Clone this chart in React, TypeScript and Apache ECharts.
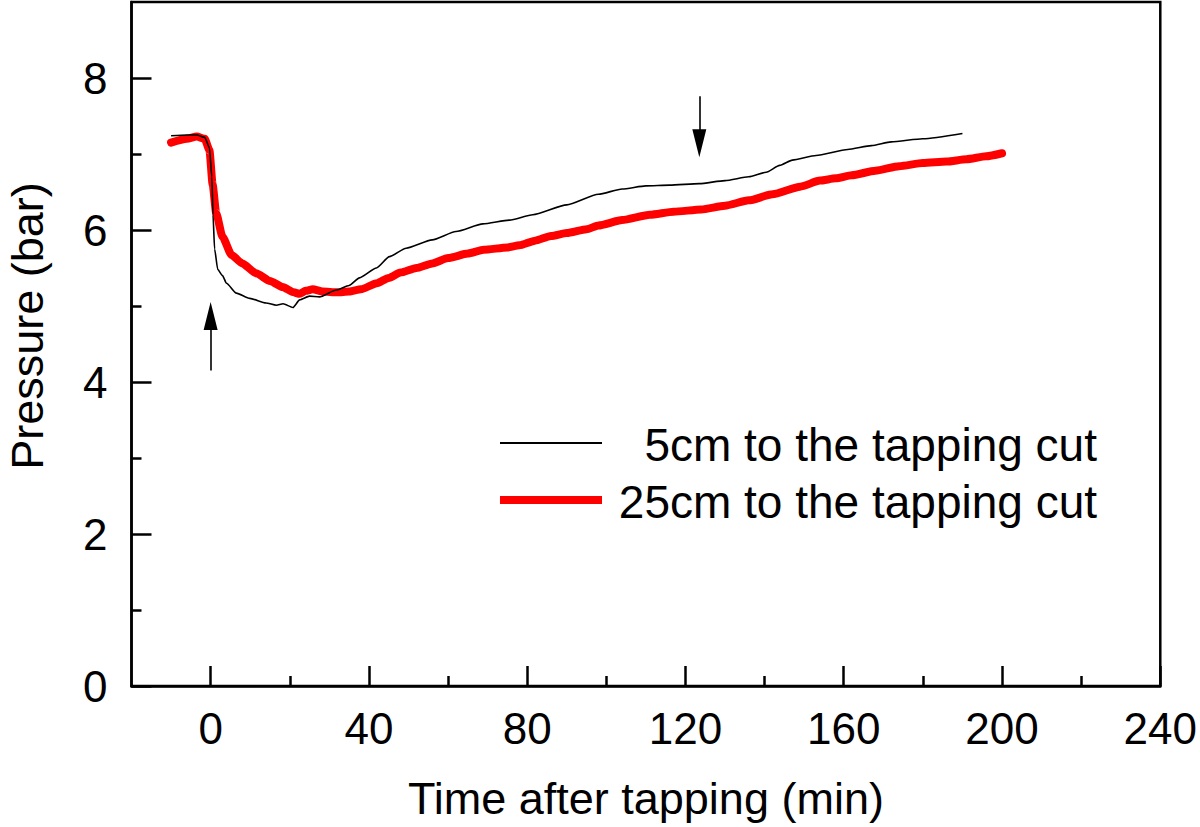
import React, { useEffect, useRef } from "react";
import * as echarts from "echarts";

// ---- data ----
const time5cm = [-10, -6, -3.5, -1.5, -0.3, 0.3, 0.6, 1.0, 1.8, 3, 4, 6.5, 9.9, 14, 16.6, 18.3, 20.8, 22.5, 25, 27.5, 31.8, 35, 37.6, 41.9, 45.2, 49.4, 56, 62, 68.8, 75.5, 81.4, 90, 98, 104, 110, 116, 123.5, 130, 136, 140.4, 143.8, 147, 153, 161, 167, 172, 180, 190];
const pressure5cm = [7.24, 7.25, 7.25, 7.22, 7.08, 6.7, 6.2, 5.75, 5.48, 5.4, 5.3, 5.17, 5.1, 5.04, 5.01, 5.03, 4.98, 5.08, 5.13, 5.12, 5.21, 5.27, 5.37, 5.5, 5.65, 5.76, 5.87, 5.98, 6.08, 6.13, 6.2, 6.33, 6.47, 6.54, 6.58, 6.59, 6.61, 6.65, 6.7, 6.76, 6.85, 6.92, 6.98, 7.06, 7.11, 7.16, 7.2, 7.27];

const time25cm = [-10, -6, -3.5, -1.5, -0.3, 0.5, 1.4, 3, 5.3, 8, 11.5, 15, 18.2, 21, 22.5, 24, 25.8, 28.3, 32, 35, 38, 42, 45, 48, 52, 56, 60, 65, 69, 75, 78, 82, 86, 90, 95, 98, 104, 111, 117, 124, 130, 136, 142, 149, 154, 158, 162, 168, 174, 180, 186, 191, 196, 200];
const pressure25cm = [7.15, 7.2, 7.23, 7.2, 7.05, 6.6, 6.22, 5.91, 5.67, 5.56, 5.43, 5.33, 5.25, 5.18, 5.16, 5.2, 5.22, 5.19, 5.18, 5.19, 5.22, 5.3, 5.37, 5.44, 5.5, 5.56, 5.63, 5.69, 5.74, 5.77, 5.8, 5.86, 5.92, 5.96, 6.01, 6.06, 6.13, 6.2, 6.24, 6.27, 6.32, 6.39, 6.47, 6.57, 6.65, 6.68, 6.72, 6.78, 6.84, 6.88, 6.9, 6.93, 6.97, 7.01];

const seriesNames = ["5cm to the tapping cut", "25cm to the tapping cut"];

const xMajorTicks = [0, 40, 80, 120, 160, 200, 240];
const xMinorTicks = [20, 60, 100, 140, 180, 220];
const yMajorTicks = [0, 2, 4, 6, 8];
const yMinorTicks = [1, 3, 5, 7];

// arrows: [start, end] (end = arrow-head centre)
const upArrow = [[0, 4.15], [0, 4.87]];
const downArrow = [[123.5, 7.76], [123.5, 7.14]];

const FONT = "'Liberation Sans', Arial, Helvetica, sans-serif";

function zip(xs: number[], ys: number[]) {
  return xs.map((x, i) => [x, ys[i]]);
}

export default function App() {
  const ref = useRef<HTMLDivElement>(null);
  useEffect(() => {
    if (!ref.current) return;
    const chart = echarts.init(ref.current, undefined, { renderer: "svg" });
    const axisLine = { show: true, onZero: false, lineStyle: { color: "#000", width: 2.5 } };
    const hiddenLine = { show: false, onZero: false };
    chart.setOption({
      animation: false,
      backgroundColor: "#fff",
      grid: {
        left: 131.5,
        top: 2,
        right: 39,
        bottom: 141,
        show: true,
        borderColor: "#000",
        borderWidth: 2.5,
        backgroundColor: "transparent",
      },
      xAxis: [
        {
          type: "value",
          min: -20,
          max: 240,
          position: "bottom",
          axisLine,
          splitLine: { show: false },
          name: "Time after tapping (min)",
          nameLocation: "middle",
          nameGap: 90,
          nameTextStyle: { fontFamily: FONT, fontSize: 45, color: "#000" },
          axisTick: {
            show: true,
            inside: true,
            length: 20,
            customValues: xMajorTicks,
            lineStyle: { color: "#000", width: 2.5 },
          },
          axisLabel: {
            show: true,
            customValues: xMajorTicks,
            margin: 20,
            fontFamily: FONT,
            fontSize: 44,
            color: "#000",
          },
        },
        {
          type: "value",
          min: -20,
          max: 240,
          position: "bottom",
          axisLine: hiddenLine,
          splitLine: { show: false },
          axisTick: {
            show: true,
            inside: true,
            length: 10,
            customValues: xMinorTicks,
            lineStyle: { color: "#000", width: 2.5 },
          },
          axisLabel: { show: false },
        },
      ],
      yAxis: [
        {
          type: "value",
          min: 0,
          max: 9,
          position: "left",
          axisLine,
          splitLine: { show: false },
          axisTick: {
            show: true,
            inside: true,
            length: 20,
            customValues: yMajorTicks,
            lineStyle: { color: "#000", width: 2.5 },
          },
          axisLabel: {
            show: true,
            customValues: yMajorTicks,
            margin: 24,
            fontFamily: FONT,
            fontSize: 44,
            color: "#000",
          },
        },
        {
          type: "value",
          min: 0,
          max: 9,
          position: "left",
          axisLine: hiddenLine,
          splitLine: { show: false },
          axisTick: {
            show: true,
            inside: true,
            length: 10,
            customValues: yMinorTicks,
            lineStyle: { color: "#000", width: 2.5 },
          },
          axisLabel: { show: false },
        },
      ],
      series: [
        {
          name: seriesNames[0],
          type: "line",
          data: zip(time5cm, pressure5cm),
          showSymbol: false,
          symbol: "none",
          smooth: 0.2,
          smoothMonotone: "x",
          lineStyle: { color: "#000", width: 1.6 },
          z: 3,
          markLine: {
            silent: true,
            symbol: ["none", "triangle"],
            symbolSize: [14, 28],
            label: { show: false },
            lineStyle: { color: "#000", width: 1.6, type: "solid" },
            itemStyle: { color: "#000" },
            data: [
              [{ coord: upArrow[0] }, { coord: upArrow[1] }],
              [{ coord: downArrow[0] }, { coord: downArrow[1] }],
            ],
          },
        },
        {
          name: seriesNames[1],
          type: "line",
          data: zip(time25cm, pressure25cm),
          showSymbol: false,
          symbol: "none",
          smooth: 0.2,
          smoothMonotone: "x",
          lineStyle: { color: "#ff0000", width: 8, cap: "round", join: "round" },
          z: 2,
        },
      ],
      graphic: [
        {
          type: "text",
          x: 27,
          y: 326,
          rotation: Math.PI / 2,
          style: {
            text: "Pressure (bar)",
            font: `45px ${FONT}`,
            fill: "#000",
            align: "center",
            verticalAlign: "middle",
          },
        },
        {
          type: "line",
          shape: { x1: 500, y1: 443, x2: 602, y2: 443 },
          style: { stroke: "#000", lineWidth: 2 },
        },
        {
          type: "line",
          shape: { x1: 500, y1: 500, x2: 602, y2: 500 },
          style: { stroke: "#ff0000", lineWidth: 8 },
        },
        {
          type: "text",
          x: 1097,
          y: 445,
          style: {
            text: seriesNames[0],
            font: `46px ${FONT}`,
            fill: "#000",
            align: "right",
            verticalAlign: "middle",
          },
        },
        {
          type: "text",
          x: 1097,
          y: 502,
          style: {
            text: seriesNames[1],
            font: `46px ${FONT}`,
            fill: "#000",
            align: "right",
            verticalAlign: "middle",
          },
        },
      ],
    });
    return () => chart.dispose();
  }, []);
  return (
    <div
      ref={ref}
      style={{ position: "fixed", left: 0, top: 0, width: 1200, height: 827 }}
    />
  );
}
